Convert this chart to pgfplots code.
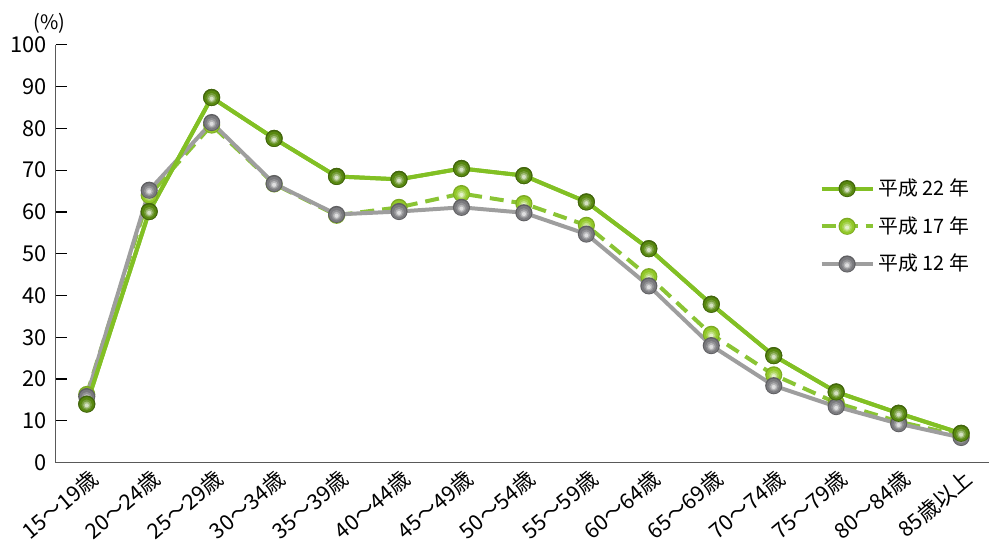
\documentclass[border=0pt]{standalone}
\usepackage{fontspec}
\setmainfont{Noto Sans CJK JP}
\usepackage{pgfplots}
\pgfplotsset{compat=1.18}

\definecolor{lineA}{RGB}{130,192,36}
\definecolor{ballA}{RGB}{88,136,16}
\definecolor{lineB}{RGB}{138,196,52}
\definecolor{ballB}{RGB}{146,200,40}
\definecolor{lineC}{RGB}{158,158,158}
\definecolor{ballC}{RGB}{122,122,126}

% glossy balls from stacked discs
\newcommand{\disc}[3]{\pgfsetfillcolor{#1}\pgfpathcircle{\pgfpoint{0pt}{#2\pgfplotmarksize}}{#3\pgfplotmarksize}\pgfusepath{fill}}
\newcommand{\ballmark}[2]{%
  \disc{#1!#2!black}{0}{1}%
  \disc{#1}{-0.04}{0.86}%
  \disc{#1!82!white}{-0.08}{0.62}%
  \disc{#1!55!white}{-0.12}{0.42}%
  \disc{#1!25!white}{-0.15}{0.24}}
\pgfdeclareplotmark{ballA}{\ballmark{ballA}{75}}
\pgfdeclareplotmark{ballB}{\ballmark{ballB}{85}}
\pgfdeclareplotmark{ballC}{\ballmark{ballC}{78}}

\begin{document}
\begin{tikzpicture}
% category labels first, in a bare axis of the same size
\begin{axis}[
  width=468.3bp, height=209.5bp, scale only axis,
  xmin=-0.5, xmax=14.45, ymin=0, ymax=100,
  axis x line*=bottom, hide y axis,
  axis line style={draw=none},
  xtick={0,...,14},
  xticklabels={15〜19歳,20〜24歳,25〜29歳,30〜34歳,35〜39歳,40〜44歳,45〜49歳,50〜54歳,55〜59歳,60〜64歳,65〜69歳,70〜74歳,75〜79歳,80〜84歳,85歳以上},
  x tick style={draw=none},
  xticklabel style={font=\fontsize{10.8}{13}\selectfont, rotate=40, anchor=north east, inner sep=1bp, yshift=-1.5bp},
]
\end{axis}
\begin{axis}[
  width=468.3bp, height=209.5bp, scale only axis,
  xmin=-0.5, xmax=14.45, ymin=0, ymax=100,
  axis x line*=bottom, axis y line*=left,
  axis line style={black!65, line width=0.8bp},
  clip=false,
  tick align=inside,
  xtick={0,...,14},
  xticklabels={},
  x tick style={draw=none},
  minor xtick={0.5,1.5,...,13.5},
  minor x tick style={black, line width=0.6bp},
  minor tick length=5bp,
  ytick={0,10,...,100},
  y tick style={black, line width=0.6bp},
  major tick length=6bp,
  /pgf/number format/assume math mode=true,
  yticklabel style={font=\fontsize{11}{13}\selectfont, xshift=-1bp},
  legend style={draw=none, fill=none, at={(0.818,0.69)}, anchor=north west,
    font=\fontsize{10}{12}\selectfont, row sep=5bp, inner sep=0pt,
    nodes={inner sep=2bp}},
  legend cell align=left,
  legend image code/.code={\draw[mark repeat=2, mark phase=2] plot coordinates {(0cm,0cm) (0.45cm,0cm) (0.9cm,0cm)};},
  mark size=4.3bp,
]
\addplot[lineA, line width=2bp, mark=ballA] coordinates {
 (0,14.0)(1,60.1)(2,87.4)(3,77.6)(4,68.5)(5,67.8)(6,70.4)(7,68.7)(8,62.4)(9,51.2)(10,37.9)(11,25.6)(12,16.9)(13,11.8)(14,7.0)};
\addlegendentry{平成 22 年}
\addplot[lineB, line width=2bp, dash pattern=on 7bp off 4bp, mark=ballB, mark options={solid}] coordinates {
 (0,16.3)(1,64.0)(2,80.8)(3,66.7)(4,59.2)(5,61.1)(6,64.4)(7,62.0)(8,56.8)(9,44.5)(10,30.7)(11,21.0)(12,14.3)(13,9.8)(14,6.4)};
\addlegendentry{平成 17 年}
\addplot[lineC, line width=2bp, mark=ballC] coordinates {
 (0,15.8)(1,65.2)(2,81.4)(3,66.8)(4,59.4)(5,60.1)(6,61.1)(7,59.8)(8,54.7)(9,42.3)(10,28.0)(11,18.4)(12,13.4)(13,9.3)(14,6.0)};
\addlegendentry{平成 12 年}
\addplot[lineA, line width=2bp, mark=ballA, forget plot] coordinates {
 (0,14.0)(1,60.1)(2,87.4)(3,77.6)(4,68.5)(5,67.8)(6,70.4)(7,68.7)(8,62.4)(9,51.2)(10,37.9)(11,25.6)(12,16.9)(13,11.8)(14,7.0)};
\node[font=\fontsize{10}{12}\selectfont] at ([xshift=-3bp, yshift=11bp]rel axis cs:0,1) {(\%)};
\end{axis}
\path (-27.85bp,-34bp) (467.15bp,232bp);
\end{tikzpicture}
\end{document}
